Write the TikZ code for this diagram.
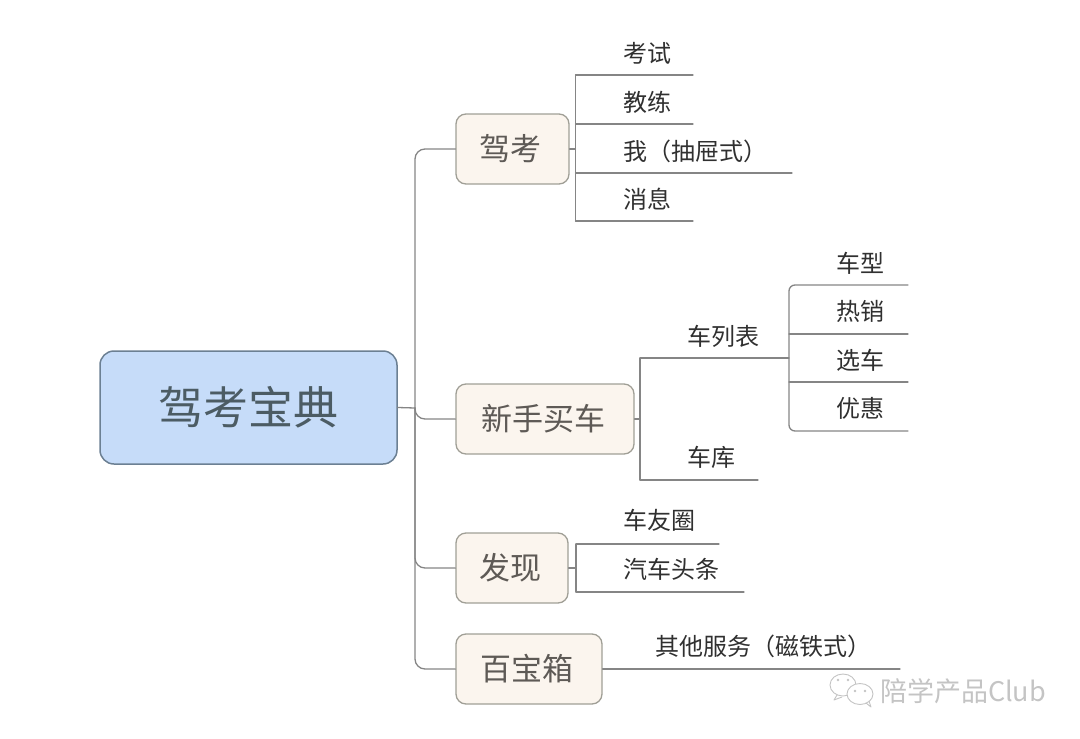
\documentclass[tikz,border=0pt]{standalone}
\usepackage{fontspec}
\setmainfont{Noto Sans CJK SC}
\definecolor{linegray}{HTML}{858585}
\definecolor{rootfill}{HTML}{C6DCF9}
\definecolor{rootline}{HTML}{6C8093}
\definecolor{rootink}{HTML}{4C5C64}
\definecolor{branchfill}{HTML}{FBF5EE}
\definecolor{branchline}{HTML}{A09F96}
\definecolor{branchink}{HTML}{5E5A56}
\definecolor{leafink}{HTML}{303030}
\definecolor{markgray}{HTML}{C4C4C4}
\begin{document}
\begin{tikzpicture}[x=1pt,y=-1pt, line join=round, line cap=round]

	\tikzset{
		root style/.style={draw=rootline,line width=1.5pt,fill=rootfill,rounded corners=14pt,text=rootink,inner sep=0pt,font=\fontsize{45}{48}\selectfont},
		branch style/.style={draw=branchline,line width=1.3pt,fill=branchfill,rounded corners=10pt,text=branchink,inner sep=0pt,minimum height=70pt,font=\fontsize{31}{36}\selectfont,execute at end node=\hspace{4pt}},
		leaf style/.style={text=leafink,inner sep=0pt,font=\fontsize{24}{28}\selectfont},
		conn style/.style={draw=linegray,line width=1.3pt}
	}

	\useasboundingbox (0,0) rectangle (1080,739);

	\node[root style,minimum width=297pt,minimum height=113pt] (root) at (248.5,407.5) {驾考宝典};
	\node[branch style,minimum width=113pt] (jiakao) at (512.5,149) {驾考};
	\node[branch style,minimum width=178pt] (xinshou) at (545,419) {新手买车};
	\node[branch style,minimum width=112pt] (faxian) at (512,568) {发现};
	\node[branch style,minimum width=146pt] (baibao) at (529,669) {百宝箱};

	% main trunk
	\coordinate (trunk) at (415,408);
	\draw[conn style] (root.east)--(trunk);
	\foreach \b in {jiakao,xinshou,faxian,baibao}
	\draw[conn style,rounded corners=10pt] (trunk) |- (\b.west);

	% leaves: name/text/text centre x/text y/line y/line start/line end
	\foreach \n/\txt/\x/\y/\ly/\xa/\xe in {%
		kaoshi/考试/647/53/75/575.5/693,%
		jiaolian/教练/647/102/124/575.5/693,%
		wo/我（抽屉式）/695/151/173/575.5/792,%
		xiaoxi/消息/647/199/221/575.5/693,%
		liebiao/车列表/723/336/358/640/789,%
		cheku/车库/711/457/480/640/758,%
		chexing/车型/860/263/285/789/908,%
		rexiao/热销/860/311/334/789/908,%
		xuanche/选车/860/360/382/789/908,%
		youhui/优惠/860/408/431/789/908,%
		cheyou/车友圈/659/520/544/576/719,%
		toutiao/汽车头条/671/569/592/576/744,%
		qita/其他服务（磁铁式）/763/646/669/602/900%
	}
	{
		\node[leaf style] (\n) at (\x,\y) {\txt};
		\coordinate (\n-a) at (\xa,\ly);
		\coordinate (\n-e) at (\xe,\ly);
	}
	\foreach \n in {kaoshi,jiaolian,wo,xiaoxi,liebiao,cheku,rexiao,xuanche,cheyou,toutiao}
	\draw[conn style] (\n-a)--(\n-e);

	% small trunks
	\coordinate (jiakao-t) at (575.5,149);
	\coordinate (xinshou-t) at (640,419);
	\coordinate (faxian-t) at (576,568);
	\draw[conn style] (jiakao.east)--(jiakao-t);
	\draw[conn style] (xinshou.east)--(xinshou-t);
	\draw[conn style] (faxian.east)--(faxian-t);
	\draw[conn style] (kaoshi-a)--(xiaoxi-a);
	\draw[conn style] (liebiao-a)--(cheku-a);
	\draw[conn style] (cheyou-a)--(toutiao-a);
	\draw[conn style] (baibao.east)--(qita-e);
	\draw[conn style,rounded corners=6pt] (chexing-e)--(chexing-a)--(youhui-a)--(youhui-e);

	% watermark
	\node[inner sep=0pt,text=markgray,font=\fontsize{27}{30}\selectfont] (mark) at (963,691) {陪学产品Club};
	\begin{scope}[draw=markgray,line width=.9pt]
		\draw (843,685) ellipse (13pt and 11pt);
		\draw (837,695)--(834,700)--(842,697);
		\draw[fill=white] (860,694) ellipse (13pt and 10.5pt);
		\draw (866,703)--(871,707)--(869,701);
		\foreach \x/\y in {838/680,848/680,855/691,865/691}
		\fill[markgray] (\x,\y) circle (1.3pt);
	\end{scope}
\end{tikzpicture}
\end{document}
